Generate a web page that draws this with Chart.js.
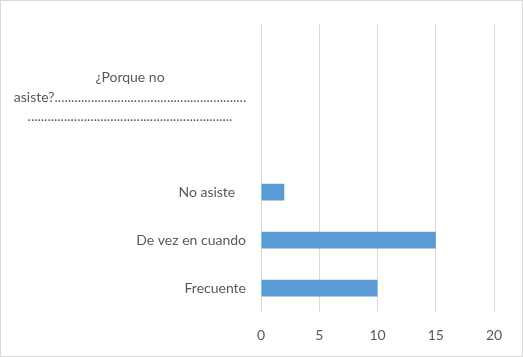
<!DOCTYPE html>
<html>
<head>
<meta charset="utf-8">
<script src="https://cdn.jsdelivr.net/npm/chart.js@4/dist/chart.umd.min.js"></script>
<style>
  html, body { margin: 0; padding: 0; background: #fff; }
  #wrap { width: 523px; height: 357px; box-sizing: border-box; border: 1px solid #D9D9D9; background: #fff; }
  #wrap canvas { display: block; }
</style>
</head>
<body>
<div id="wrap"><canvas id="c" width="521" height="355"></canvas></div>
<script>
// Data (top to bottom as shown)
const porqueLabel = [
  '¿Porque no',
  'asiste?' + '.'.repeat(58),
  '.'.repeat(62)
];
const categories = ['', porqueLabel, '', 'No asiste   ', 'De vez en cuando', 'Frecuente'];
const values = [null, null, null, 2, 15, 10];
const xTicks = [0, 5, 10, 15, 20];

const textColor = '#595959';
const gridColor = '#D9D9D9';
const barColor = '#5B9BD5';
const fontFamily = 'Lato, "Liberation Sans", sans-serif';

const multiLinePlugin = {
  id: 'multiLineCategory',
  afterDraw(chart) {
    const y = chart.scales.y;
    const ctx = chart.ctx;
    ctx.save();
    ctx.font = '14px ' + fontFamily;
    ctx.fillStyle = textColor;
    ctx.textAlign = 'center';
    ctx.textBaseline = 'middle';
    categories.forEach((cat, i) => {
      if (Array.isArray(cat)) {
        const cy = y.getPixelForValue(i);
        const lh = 19.5;
        const n = cat.length;
        cat.forEach((line, j) => {
          ctx.fillText(line, 129, cy + 1 + (j - (n - 1) / 2) * lh);
        });
      }
    });
    ctx.restore();
  }
};

new Chart(document.getElementById('c'), {
  type: 'bar',
  data: {
    labels: categories,
    datasets: [{
      data: values,
      backgroundColor: barColor,
      borderWidth: 0,
      barPercentage: 0.35,
      categoryPercentage: 1
    }]
  },
  options: {
    indexAxis: 'y',
    responsive: false,
    animation: false,
    devicePixelRatio: 1,
    layout: { padding: { left: 0, right: 28, top: 19, bottom: 0 } },
    plugins: { legend: { display: false }, tooltip: { enabled: false } },
    scales: {
      x: {
        min: 0, max: 20,
        afterBuildTicks(scale) { scale.ticks = xTicks.map(v => ({ value: v })); },
        afterFit(scale) { scale.height = 44; },
        grid: { color: gridColor, lineWidth: 1, drawTicks: false },
        border: { display: false },
        ticks: { color: textColor, font: { family: fontFamily, size: 14 }, padding: 15, maxRotation: 0 }
      },
      y: {
        afterFit(scale) { scale.width = 260; },
        grid: { display: false, drawTicks: false },
        border: { display: false },
        ticks: {
          color: textColor,
          font: { family: fontFamily, size: 14 },
          padding: 15,
          autoSkip: false,
          callback(value, index) {
            const c = categories[index];
            return Array.isArray(c) ? '' : c;
          }
        }
      }
    }
  },
  plugins: [multiLinePlugin]
});
</script>
</body>
</html>
